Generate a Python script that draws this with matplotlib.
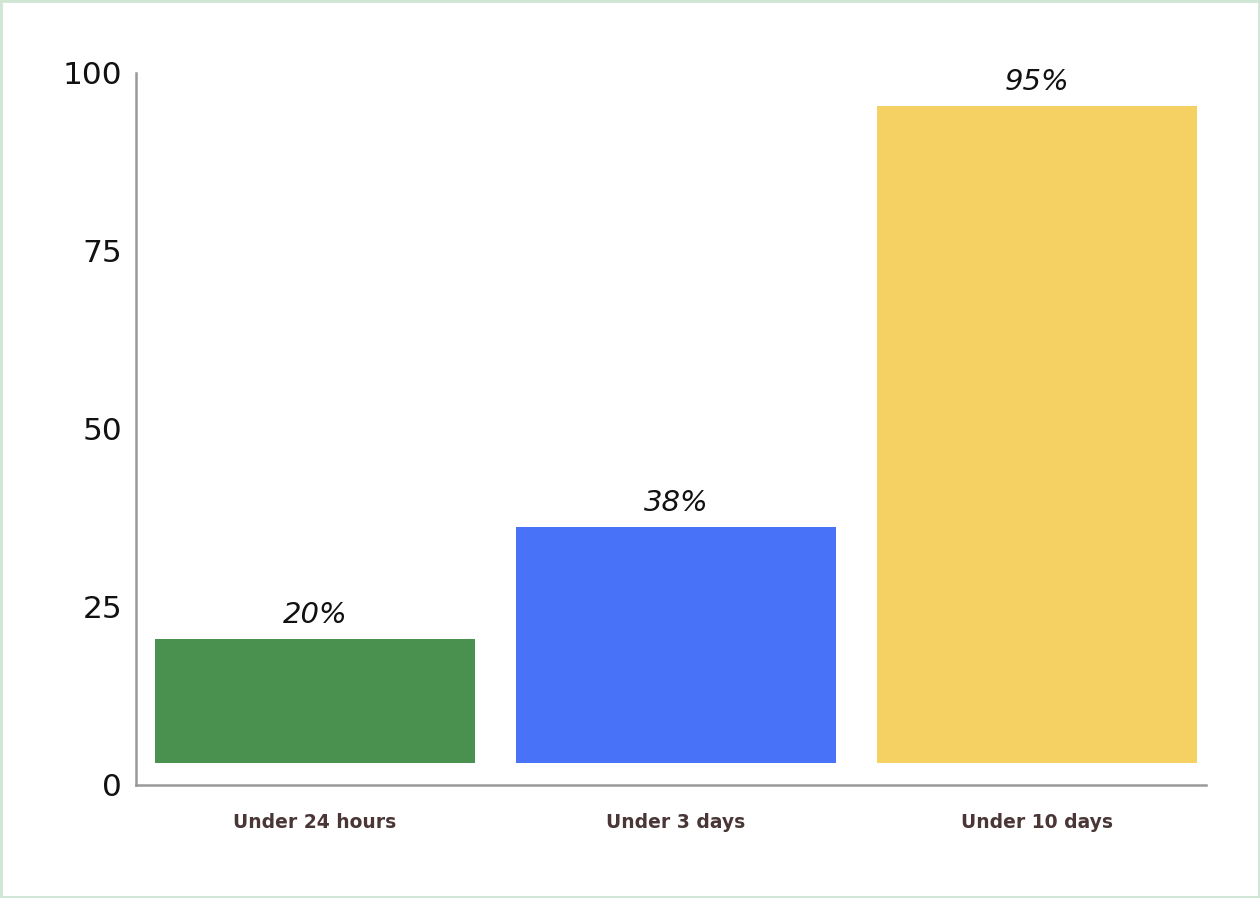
import matplotlib
matplotlib.use("Agg")
import matplotlib.pyplot as plt
from matplotlib.patches import Rectangle

# data
categories = ["Under 24 hours", "Under 3 days", "Under 10 days"]
bar_tops = [20.5, 36.2, 95.4]
bar_base = 3.1
value_labels = ["20%", "38%", "95%"]
bar_colors = ["#4a9150", "#4872f8", "#f5d062"]
y_ticks = [0, 25, 50, 75, 100]

W, H = 1260, 898
fig = plt.figure(figsize=(W / 100, H / 100), dpi=100)
fig.patch.set_facecolor("white")

# light green frame round the picture
fig.patches.append(Rectangle((0, 0), 1, 1, transform=fig.transFigure,
                             fill=False, edgecolor="#cfe6d4", linewidth=3.5))

ax = fig.add_axes([136 / W, (H - 785) / H, 1070 / W, (785 - 73) / H])

x = list(range(len(categories)))
heights = [t - bar_base for t in bar_tops]
ax.bar(x, heights, bottom=bar_base, width=0.886, color=bar_colors, zorder=2)

for xi, top, lab in zip(x, bar_tops, value_labels):
    ax.text(xi, top + 1.4, lab, ha="center", va="bottom", fontsize=21,
            style="italic", family="DejaVu Sans", color="#111111")

ax.set_xlim(-0.496, 2.468)
ax.set_ylim(0, 100)
ax.set_yticks(y_ticks)
ax.set_yticklabels([str(v) for v in y_ticks], fontsize=22.5,
                   family="DejaVu Sans", color="#111111")
ax.set_xticks(x)
ax.set_xticklabels(categories, fontsize=13.5, fontweight="bold",
                   family="DejaVu Sans", color="#4a3636")
ax.tick_params(axis="y", length=0, pad=10)
ax.tick_params(axis="x", length=0, pad=20)

for side in ["top", "right"]:
    ax.spines[side].set_visible(False)
for side in ["left", "bottom"]:
    ax.spines[side].set_color("#999999")
    ax.spines[side].set_linewidth(1.8)

fig.savefig("out.png", dpi=100)
